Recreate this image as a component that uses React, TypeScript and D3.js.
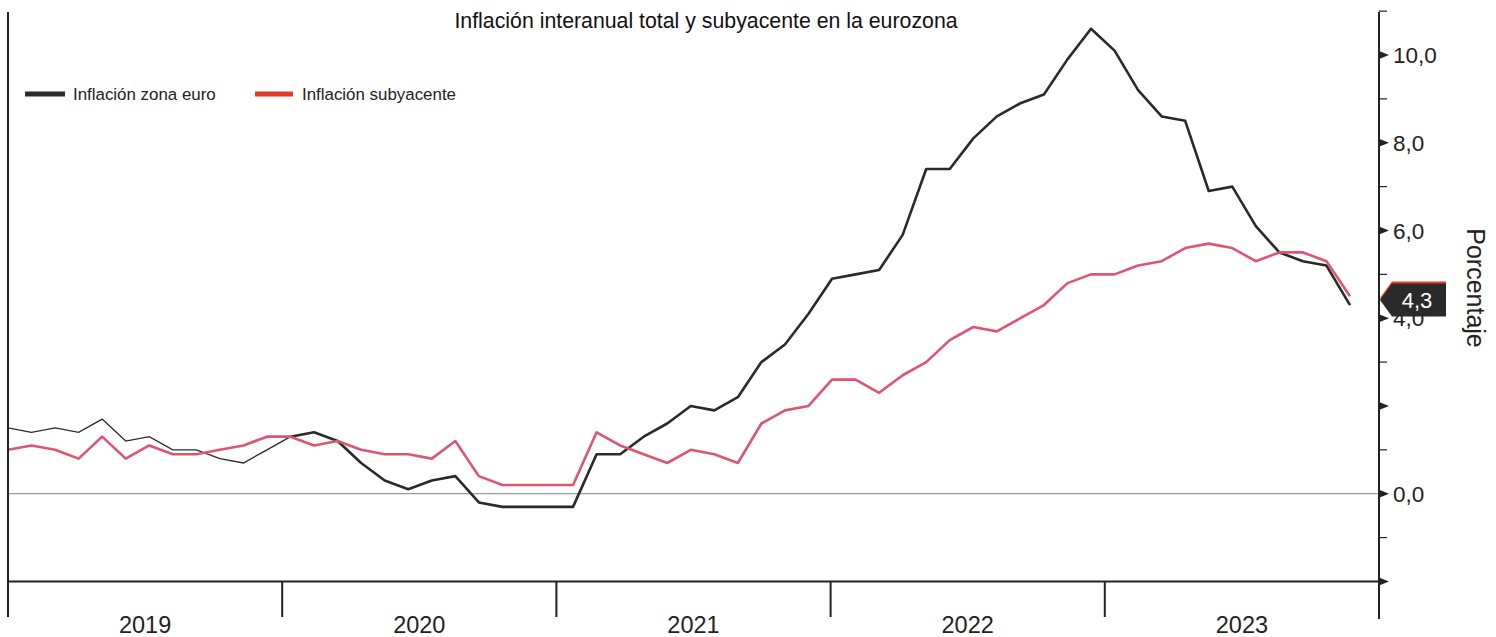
import React from 'react';
import * as d3 from 'd3';

// Dic 2018 .. Sep 2023 (mensual)
const months: string[] = d3
  .timeMonth.range(new Date(2018, 11, 1), new Date(2023, 9, 1))
  .map(d => d3.timeFormat('%Y-%m')(d));

const years = ['2019', '2020', '2021', '2022', '2023'];

// Inflación zona euro (IAPC general, % interanual)
const headline = [
  1.5,
  1.4, 1.5, 1.4, 1.7, 1.2, 1.3, 1.0, 1.0, 0.8, 0.7, 1.0, 1.3,
  1.4, 1.2, 0.7, 0.3, 0.1, 0.3, 0.4, -0.2, -0.3, -0.3, -0.3, -0.3,
  0.9, 0.9, 1.3, 1.6, 2.0, 1.9, 2.2, 3.0, 3.4, 4.1, 4.9, 5.0,
  5.1, 5.9, 7.4, 7.4, 8.1, 8.6, 8.9, 9.1, 9.9, 10.6, 10.1, 9.2,
  8.6, 8.5, 6.9, 7.0, 6.1, 5.5, 5.3, 5.2, 4.3,
];

// Inflación subyacente
const core = [
  1.0,
  1.1, 1.0, 0.8, 1.3, 0.8, 1.1, 0.9, 0.9, 1.0, 1.1, 1.3, 1.3,
  1.1, 1.2, 1.0, 0.9, 0.9, 0.8, 1.2, 0.4, 0.2, 0.2, 0.2, 0.2,
  1.4, 1.1, 0.9, 0.7, 1.0, 0.9, 0.7, 1.6, 1.9, 2.0, 2.6, 2.6,
  2.3, 2.7, 3.0, 3.5, 3.8, 3.7, 4.0, 4.3, 4.8, 5.0, 5.0, 5.2,
  5.3, 5.6, 5.7, 5.6, 5.3, 5.5, 5.5, 5.3, 4.5,
];

const majorTicks = [-2, 0, 2, 4, 6, 8, 10];
const minorTicks = [-1, 1, 3, 5, 7, 9, 11];
const labelledTicks = [0, 4, 6, 8, 10];

const W = 1496;
const H = 637;
const left = 8;
const axisX = 1379;
const FONT = '"Liberation Sans", Arial, sans-serif';
const BLACK = '#2a2a2a';
const RED = '#dc5670';

const fmt = (v: number) => v.toFixed(1).replace('.', ',');

export default function App() {
  const x = d3.scalePoint<string>().domain(months).range([left, 1350]);
  const y = d3.scaleLinear().domain([0, 10]).range([493.7, 55]);
  const yearBand = d3.scaleBand<string>().domain(years).range([left, axisX]);

  const line = d3
    .line<number>()
    .x((_, i) => x(months[i]) as number)
    .y(d => y(d));

  const lineFrom = (vals: number[], start: number, end: number) =>
    d3
      .line<number>()
      .x((_, i) => x(months[i + start]) as number)
      .y(d => y(d))(vals.slice(start, end + 1)) as string;

  const xAxisY = y(-2);
  const n = headline.length;

  // etiqueta final
  const labelPoly = (cy: number) => {
    const h = 33;
    const tip = axisX + 1;
    const bx = tip + 12;
    return `${tip},${cy} ${bx},${cy - h / 2} ${1446},${cy - h / 2} ${1446},${cy + h / 2} ${bx},${cy + h / 2}`;
  };
  const blackCy = y(headline[n - 1]) - 5;
  const redCy = blackCy - 2;

  return (
    <svg
      width={W}
      height={H}
      style={{ position: 'absolute', left: 0, top: 0, background: '#fff' }}
      fontFamily={FONT}
    >
      <text x={706} y={28} textAnchor="middle" fontSize={21.3} fill="#111">
        Inflación interanual total y subyacente en la eurozona
      </text>

      {/* leyenda */}
      <line x1={25} x2={65} y1={94} y2={94} stroke={BLACK} strokeWidth={5} />
      <text x={73} y={100} fontSize={16.9} fill="#222">Inflación zona euro</text>
      <line x1={255} x2={293} y1={94} y2={94} stroke="#e03a28" strokeWidth={5} />
      <text x={302} y={100} fontSize={16.9} fill="#222">Inflación subyacente</text>

      {/* línea del cero */}
      <line x1={left} x2={axisX} y1={y(0)} y2={y(0)} stroke="#9a9a9a" strokeWidth={1.3} />

      {/* series */}
      <path d={lineFrom(headline, 0, 12)} fill="none" stroke={BLACK} strokeWidth={1.3} />
      <path d={lineFrom(headline, 12, n - 1)} fill="none" stroke={BLACK} strokeWidth={2.6} strokeLinejoin="round" />
      <path d={line(core) as string} fill="none" stroke={RED} strokeWidth={2.6} strokeLinejoin="round" />

      {/* eje x */}
      <line x1={left} x2={axisX} y1={xAxisY} y2={xAxisY} stroke="#222" strokeWidth={2} />
      <line x1={left} x2={left} y1={12} y2={617} stroke="#222" strokeWidth={2} />
      {years.map(yr => {
        const x0 = yearBand(yr) as number;
        const x1 = x0 + yearBand.bandwidth();
        return (
          <g key={yr}>
            <line x1={x1} x2={x1} y1={xAxisY} y2={617} stroke="#222" strokeWidth={2} />
            <text x={(x0 + x1) / 2} y={633} textAnchor="middle" fontSize={23.5} fill="#222">
              {yr}
            </text>
          </g>
        );
      })}

      {/* eje y */}
      <line x1={axisX} x2={axisX} y1={12} y2={619} stroke="#222" strokeWidth={2} />
      {minorTicks.map(t => (
        <line key={'m' + t} x1={axisX} x2={axisX + 8} y1={y(t)} y2={y(t)} stroke="#222" strokeWidth={1.2} />
      ))}
      {majorTicks.map(t => (
        <path
          key={'M' + t}
          d={`M${axisX},${y(t) - 4}L${axisX + 10},${y(t)}L${axisX},${y(t) + 4}Z`}
          fill="#222"
        />
      ))}
      {labelledTicks.map(t => (
        <text key={'l' + t} x={1393} y={y(t)} dy="0.36em" fontSize={22.5} fill="#222">
          {fmt(t)}
        </text>
      ))}

      <text
        transform={`translate(1467,288) rotate(90)`}
        textAnchor="middle"
        fontSize={25}
        fill="#222"
      >
        Porcentaje
      </text>

      {/* etiquetas del último valor */}
      <polygon points={labelPoly(redCy)} fill="#e03a28" />
      <polygon points={labelPoly(blackCy)} fill={BLACK} />
      <text x={1417} y={blackCy} dy="0.36em" textAnchor="middle" fontSize={22} fill="#fff">
        {fmt(headline[n - 1])}
      </text>
    </svg>
  );
}
